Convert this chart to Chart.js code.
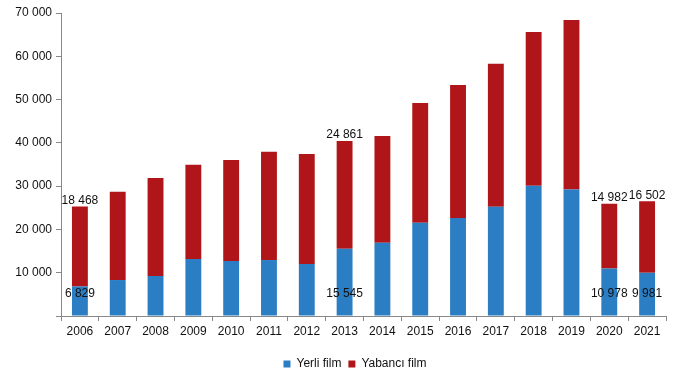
<!DOCTYPE html>
<html lang="tr">
  <head>
    <meta charset="UTF-8" />
    <title>Yerli ve yabancı film</title>
    <script src="https://cdn.jsdelivr.net/npm/chart.js@4.4.1/dist/chart.umd.min.js"></script>
    <style>
      body { margin: 0; background: #fff; }
    </style>
  </head>
  <body>
    <div style="width: 681px; height: 381px;">
      <canvas id="film-chart"></canvas>
    </div>

    <script>
      // years on the x axis
      const years = ['2006', '2007', '2008', '2009', '2010', '2011', '2012', '2013',
                     '2014', '2015', '2016', '2017', '2018', '2019', '2020', '2021'];
      // domestic films (bottom, blue)
      const yerli = [6829, 8310, 9240, 13160, 12700, 12930, 12010, 15545,
                     16930, 21550, 22630, 25240, 30090, 29200, 10978, 9981];
      // foreign films (top, red)
      const yabanci = [18468, 20390, 22630, 21780, 23330, 25010, 25400, 24861,
                       24640, 27640, 30720, 33030, 35500, 39160, 14982, 16502];
      // y axis ticks
      const yTicks = [0, 10000, 20000, 30000, 40000, 50000, 60000, 70000];
      // years that carry value labels
      const labelledYears = ['2006', '2013', '2020', '2021'];

      const font = '"Liberation Sans", Arial, sans-serif';

      // numbers written as "18 468"
      const fmt = (v) => String(v).replace(/\B(?=(\d{3})+(?!\d))/g, ' ');

      // draws the value labels for the chosen years
      const valueLabels = {
        id: 'valueLabels',
        afterDatasetsDraw(chart) {
          const ctx = chart.ctx;
          const yScale = chart.scales.y;
          ctx.save();
          ctx.font = '12px ' + font;
          ctx.fillStyle = '#111';
          ctx.textAlign = 'center';
          ctx.textBaseline = 'middle';
          labelledYears.forEach((year) => {
            const i = years.indexOf(year);
            const blueBar = chart.getDatasetMeta(0).data[i];
            const redBar = chart.getDatasetMeta(1).data[i];
            // blue value near the base of the bar
            ctx.fillText(fmt(yerli[i]), blueBar.x, yScale.getPixelForValue(0) - 22);
            // red value just above the stack
            ctx.fillText(fmt(yabanci[i]), redBar.x, redBar.y - 6);
          });
          ctx.restore();
        },
      };

      // legend sits a little right of the canvas centre, as in the original
      const shiftLegend = {
        id: 'shiftLegend',
        afterLayout(chart) {
          chart.legend.left += 22;
          chart.legend.right += 22;
        },
      };

      new Chart(document.getElementById('film-chart'), {
        type: 'bar',
        data: {
          labels: years,
          datasets: [
            {
              label: 'Yerli film',
              data: yerli,
              backgroundColor: '#2b7ec3',
              categoryPercentage: 1,
              barPercentage: 0.42,
            },
            {
              label: 'Yabancı film',
              data: yabanci,
              backgroundColor: '#b01519',
              categoryPercentage: 1,
              barPercentage: 0.42,
            },
          ],
        },
        options: {
          responsive: true,
          maintainAspectRatio: false,
          animation: false,
          layout: { padding: { top: 13, right: 15, bottom: 1, left: 0 } },
          plugins: {
            legend: {
              position: 'bottom',
              labels: {
                boxWidth: 7,
                boxHeight: 7,
                padding: 7,
                color: '#111',
                font: { size: 12, family: font },
              },
            },
            tooltip: { enabled: false },
          },
          scales: {
            x: {
              stacked: true,
              border: { color: '#888' },
              grid: { drawOnChartArea: false, tickLength: 5, color: '#888', offset: true },
              ticks: {
                color: '#111',
                padding: 3,
                font: { size: 12, family: font },
              },
              afterFit(scale) { scale.height = 35; },
            },
            y: {
              stacked: true,
              min: 0,
              max: 70000,
              border: { color: '#888' },
              grid: { drawOnChartArea: false, tickLength: 5, color: '#888' },
              afterBuildTicks(scale) { scale.ticks = yTicks.map((v) => ({ value: v })); },
              ticks: {
                color: '#111',
                padding: 4,
                font: { size: 12, family: font },
                callback: (v) => (v === 0 ? '' : fmt(v)),
              },
              afterFit(scale) { scale.width = 61; },
            },
          },
        },
        plugins: [valueLabels, shiftLegend],
      });
    </script>
  </body>
</html>
